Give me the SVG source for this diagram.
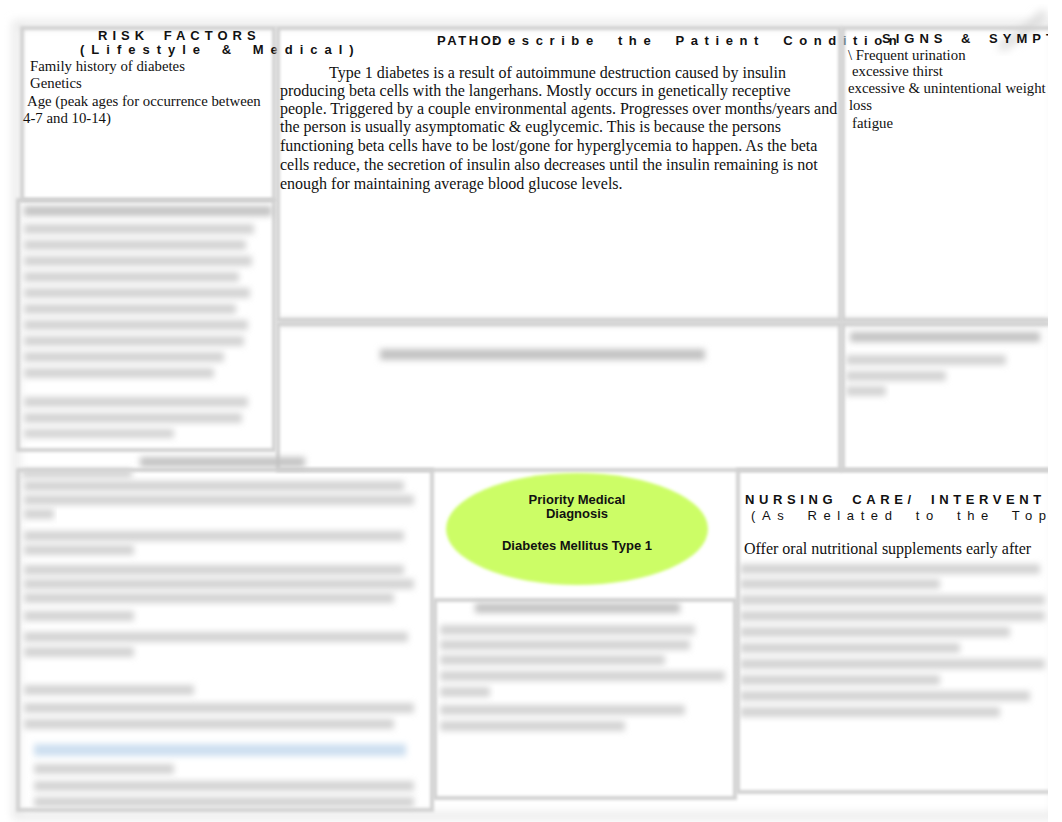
<svg xmlns="http://www.w3.org/2000/svg" width="1062" height="822" viewBox="0 0 1062 822">
<defs>
<filter id="blur" x="-10%" y="-80%" width="120%" height="260%"><feGaussianBlur stdDeviation="3.4"/></filter>
<filter id="blurS" x="-10%" y="-10%" width="120%" height="120%"><feGaussianBlur stdDeviation="1.8"/></filter>
<filter id="blurL" x="-20%" y="-20%" width="140%" height="140%"><feGaussianBlur stdDeviation="5"/></filter>
<clipPath id="page"><rect x="0" y="0" width="1048" height="822"/></clipPath>
<style>
.box{fill:none;stroke:#d2d2d2;stroke-width:4;filter:url(#blurS)}
.ln{fill:#d3d3d3;filter:url(#blur)}
.lnd{fill:#c2c2c2;filter:url(#blur)}
.hd{font-family:"Liberation Sans",Arial,sans-serif;font-size:13px;font-weight:bold;fill:#111}
.hr{font-family:"Liberation Sans",Arial,sans-serif;font-size:13px;fill:#111}
.tx{font-family:"Liberation Serif","Times New Roman",serif;font-size:14.8px;fill:#111}
.tp{font-family:"Liberation Serif","Times New Roman",serif;font-size:16px;fill:#111}
.el{font-family:"Liberation Sans",Arial,sans-serif;font-size:13px;font-weight:bold;fill:#111;text-anchor:middle}
</style>
</defs>
<rect width="1062" height="822" fill="#ffffff"/>
<g id="page-frame" clip-path="url(#page)">
<rect x="16" y="24" width="1040" height="792" fill="none" stroke="#e4e4e4" stroke-width="6" filter="url(#blurL)"/>
<path d="M1000 48 Q1030 30 1045 12" fill="none" stroke="#d8d8d8" stroke-width="8" filter="url(#blurL)"/>
<rect x="278" y="318" width="770" height="8" fill="#e2e2e2" filter="url(#blur)"/>
</g>
<g id="connectors"/>

<g id="risk-factors">
<rect class="box" x="22" y="28" width="252" height="172"/>
<text class="hd" x="98" y="40" letter-spacing="5" word-spacing="6">RISK FACTORS</text>
<text class="hd" x="80" y="54" letter-spacing="7" word-spacing="4">(Lifestyle &amp; Medical)</text>
<text class="tx" x="30" y="71">Family history of diabetes</text>
<text class="tx" x="30" y="88">Genetics</text>
<text class="tx" x="27" y="106">Age (peak ages for occurrence between</text>
<text class="tx" x="23" y="123">4-7 and 10-14)</text>
</g>

<g id="patho">
<rect class="box" x="278" y="28" width="562" height="292"/>
<text class="hd" x="437" y="45" letter-spacing="2.6">PATHO:</text>
<text class="hr" x="492" y="45" letter-spacing="6.6" word-spacing="8" font-weight="600">Describe the Patient Condition</text>
<text class="tp" x="329" y="78">Type 1 diabetes is a result of autoimmune destruction caused by insulin</text>
<text class="tp" x="280" y="96">producing beta cells with the langerhans. Mostly occurs in genetically receptive</text>
<text class="tp" x="280" y="114">people. Triggered by a couple environmental agents. Progresses over months/years and</text>
<text class="tp" x="280" y="132">the person is usually asymptomatic &amp; euglycemic. This is because the persons</text>
<text class="tp" x="280" y="151">functioning beta cells have to be lost/gone for hyperglycemia to happen. As the beta</text>
<text class="tp" x="280" y="170">cells reduce, the secretion of insulin also decreases until the insulin remaining is not</text>
<text class="tp" x="280" y="189">enough for maintaining average blood glucose levels.</text>
</g>

<g id="signs" clip-path="url(#page)">
<rect class="box" x="843" y="28" width="210" height="292"/>
<text class="hd" x="882" y="43" letter-spacing="5" word-spacing="5">SIGNS &amp; SYMPT</text>
<text class="tx" x="848" y="60">\ Frequent urination</text>
<text class="tx" x="852" y="76">excessive thirst</text>
<text class="tx" x="848" y="93">excessive &amp; unintentional weight</text>
<text class="tx" x="849" y="110">loss</text>
<text class="tx" x="852" y="128">fatigue</text>
</g>

<g id="left-middle">
<rect class="box" x="18" y="200" width="256" height="250"/>
<rect class="lnd" x="24" y="206" width="248" height="10"/>
<rect class="ln" x="24" y="224" width="230" height="10"/>
<rect class="ln" x="24" y="240" width="222" height="10"/>
<rect class="ln" x="24" y="256" width="228" height="10"/>
<rect class="ln" x="24" y="272" width="215" height="10"/>
<rect class="ln" x="24" y="288" width="226" height="10"/>
<rect class="ln" x="24" y="304" width="212" height="10"/>
<rect class="ln" x="24" y="320" width="224" height="10"/>
<rect class="ln" x="24" y="336" width="220" height="10"/>
<rect class="ln" x="24" y="352" width="200" height="10"/>
<rect class="ln" x="24" y="368" width="190" height="10"/>
<rect class="ln" x="24" y="397" width="224" height="10"/>
<rect class="ln" x="24" y="413" width="218" height="10"/>
<rect class="ln" x="24" y="429" width="150" height="9"/>
</g>

<g id="middle">
<rect class="box" x="278" y="324" width="562" height="146"/>
<rect class="lnd" x="380" y="349" width="325" height="11"/>
</g>

<g id="right-middle" clip-path="url(#page)">
<rect class="box" x="843" y="324" width="210" height="146"/>
<rect class="lnd" x="850" y="332" width="190" height="10"/>
<rect class="ln" x="846" y="355" width="160" height="10"/>
<rect class="ln" x="846" y="371" width="100" height="10"/>
<rect class="ln" x="846" y="386" width="40" height="10"/>
</g>

<g id="bottom-left">
<rect class="box" x="18" y="470" width="414" height="340"/>
<rect class="lnd" x="140" y="457" width="165" height="10"/>
<rect class="ln" x="22" y="469" width="110" height="9"/>
<rect class="ln" x="24" y="481" width="380" height="10"/>
<rect class="ln" x="24" y="495" width="390" height="10"/>
<rect class="ln" x="24" y="509" width="30" height="10"/>
<rect class="ln" x="24" y="531" width="380" height="10"/>
<rect class="ln" x="24" y="545" width="110" height="10"/>
<rect class="ln" x="24" y="565" width="380" height="10"/>
<rect class="ln" x="24" y="579" width="390" height="10"/>
<rect class="ln" x="24" y="593" width="370" height="10"/>
<rect class="ln" x="24" y="611" width="110" height="10"/>
<rect class="ln" x="24" y="632" width="384" height="10"/>
<rect class="ln" x="24" y="647" width="110" height="10"/>
<rect class="ln" x="24" y="685" width="170" height="10"/>
<rect class="ln" x="24" y="703" width="390" height="10"/>
<rect class="ln" x="24" y="719" width="370" height="10"/>
<rect x="34" y="744" width="372" height="12" style="fill:#cddff0" filter="url(#blur)"/>
<rect class="ln" x="34" y="764" width="140" height="10"/>
<rect class="ln" x="34" y="781" width="380" height="10"/>
<rect class="ln" x="34" y="797" width="380" height="10"/>
</g>

<g id="priority-diagnosis">
<ellipse cx="577" cy="529" rx="131" ry="56" fill="#ccfd66" filter="url(#blurS)"/>
<text class="el" x="577" y="504">Priority Medical</text>
<text class="el" x="577" y="518">Diagnosis</text>
<text class="el" x="577" y="550">Diabetes Mellitus Type 1</text>
</g>

<g id="bottom-middle">
<rect class="box" x="435" y="600" width="300" height="198"/>
<rect class="lnd" x="475" y="603" width="205" height="10"/>
<rect class="ln" x="440" y="625" width="255" height="10"/>
<rect class="ln" x="440" y="640" width="250" height="10"/>
<rect class="ln" x="440" y="655" width="225" height="10"/>
<rect class="ln" x="440" y="671" width="285" height="10"/>
<rect class="ln" x="440" y="687" width="50" height="10"/>
<rect class="ln" x="440" y="705" width="245" height="10"/>
<rect class="ln" x="440" y="721" width="185" height="10"/>
</g>

<g id="nursing-care" clip-path="url(#page)">
<rect class="box" x="738" y="470" width="315" height="322"/>
<text class="hd" x="745" y="504" letter-spacing="4.6" word-spacing="7">NURSING CARE/ INTERVENT</text>
<text class="hr" x="751" y="520" letter-spacing="6.6" word-spacing="7">(As Related to the Top</text>
<text class="tp" x="744" y="554">Offer oral nutritional supplements early after</text>
<rect class="ln" x="740" y="564" width="300" height="10"/>
<rect class="ln" x="740" y="579" width="200" height="10"/>
<rect class="ln" x="740" y="595" width="305" height="10"/>
<rect class="ln" x="740" y="611" width="305" height="10"/>
<rect class="ln" x="740" y="627" width="270" height="10"/>
<rect class="ln" x="740" y="643" width="220" height="10"/>
<rect class="ln" x="740" y="659" width="305" height="10"/>
<rect class="ln" x="740" y="675" width="200" height="10"/>
<rect class="ln" x="740" y="691" width="290" height="10"/>
<rect class="ln" x="740" y="707" width="260" height="10"/>
</g>
</svg>
